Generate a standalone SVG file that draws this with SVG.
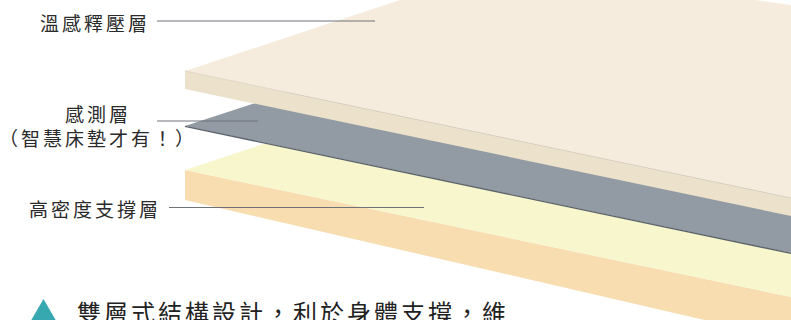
<svg xmlns="http://www.w3.org/2000/svg" width="791" height="320" viewBox="0 0 791 320">
  <style>
    .lbl { font-family: "Noto Sans CJK TC", "Noto Sans CJK SC", "Noto Sans", sans-serif; font-size: 19px; letter-spacing: 3px; fill: #2b2b2b; }
    .big { font-family: "Noto Sans CJK TC", "Noto Sans CJK SC", "Noto Sans", sans-serif; font-size: 24px; letter-spacing: 3px; fill: #222222; }
    .leader { stroke: #6e7378; stroke-width: 1; fill: none; }
  </style>
  <rect width="791" height="320" fill="#ffffff"/>
  <g id="support-layer">
    <polygon points="185,170 791,297 791,340 185,200" fill="#F7DDAF"/>
    <polygon points="185,170 420,92 791,92 791,297" fill="#F8F6CD"/>
  </g>
  <g id="sensor-layer">
    <polygon points="185,126 340,75 791,75 791,253" fill="#929BA4"/>
    <line x1="185" y1="126.4" x2="791" y2="253.4" stroke="#5B636C" stroke-width="1.4"/>
  </g>
  <g id="memory-layer">
    <polygon points="185,71 791,198 791,216 185,89" fill="#ECE1CA"/>
    <polygon points="185,71 400,0 755,0 791,5 791,198" fill="#F5ECDD"/>
    <line x1="185" y1="71" x2="791" y2="198" stroke="#D6CDBD" stroke-width="0.7"/>
  </g>
  <g id="connectors">
    <line class="leader" x1="157" y1="21" x2="375" y2="21"/>
    <line class="leader" x1="157" y1="121" x2="258" y2="121" stroke="#8a9098"/>
    <line class="leader" x1="169" y1="207.5" x2="424" y2="207.5"/>
  </g>
  <g id="label-memory">
    <text class="lbl" x="40" y="30.5">溫感釋壓層</text>
  </g>
  <g id="label-sensor">
    <text class="lbl" x="98" y="121.5" text-anchor="middle">感測層</text>
    <text class="lbl" x="98" y="145.5" text-anchor="middle">（智慧床墊才有！）</text>
  </g>
  <g id="label-support">
    <text class="lbl" x="29" y="216.5">高密度支撐層</text>
  </g>
  <g id="caption">
    <polygon points="43.5,299 29,324 58,324" fill="#37A8AF"/>
    <text class="big" x="77" y="322">雙層式結構設計，利於身體支撐，維</text>
  </g>
</svg>
